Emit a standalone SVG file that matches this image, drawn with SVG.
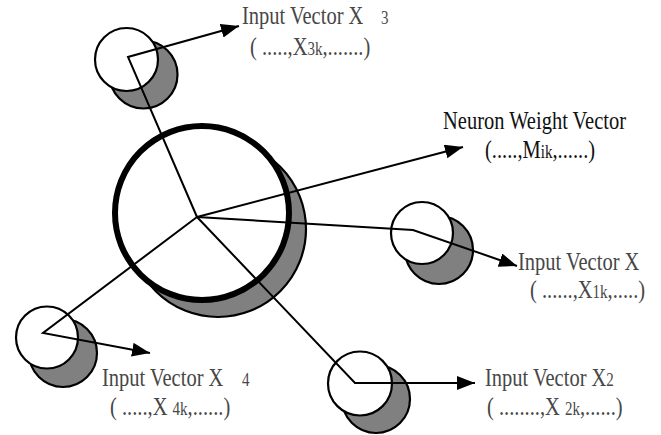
<svg xmlns="http://www.w3.org/2000/svg" width="661" height="435" viewBox="0 0 661 435">
<style>
.bg{fill:#ffffff}
.shade{fill:#808080;stroke:#000;stroke-width:2.2}
.face{fill:#ffffff;stroke:#000;stroke-width:2.2}
.bigface{fill:#ffffff;stroke:#000;stroke-width:6}
.conn{fill:none;stroke:#000;stroke-width:2;stroke-linejoin:miter}
.lbl{font-family:"Liberation Serif","Times New Roman",serif;font-size:20.5px;fill:#474747}
.lbl2{font-family:"Liberation Serif","Times New Roman",serif;font-size:20.5px;fill:#111}
.sm{font-size:15px}
</style>
<defs>
<marker id="ah" markerUnits="userSpaceOnUse" markerWidth="20" markerHeight="16" refX="18" refY="7" orient="auto">
<path d="M0,0 L18,7 L0,14 z" fill="#000"/>
</marker>
</defs>
<rect class="bg" x="0" y="0" width="661" height="435"/>
<g id="neuron">
<circle class="shade" cx="218" cy="229" r="88"/>
<circle class="bigface" cx="202" cy="213" r="87"/>
</g>
<g id="input-x3">
<circle class="shade" cx="143.5" cy="74.5" r="34"/>
<circle class="face" cx="126.5" cy="59.5" r="31.5"/>
</g>
<g id="input-x1">
<circle class="shade" cx="439" cy="250" r="34"/>
<circle class="face" cx="422" cy="233" r="31"/>
</g>
<g id="input-x4">
<circle class="shade" cx="63" cy="353" r="34"/>
<circle class="face" cx="47" cy="337.5" r="31"/>
</g>
<g id="input-x2">
<circle class="shade" cx="376" cy="399" r="34"/>
<circle class="face" cx="360" cy="383.5" r="32"/>
</g>
<g id="connectors">
<polyline class="conn" points="197,217 128,57 239,26" marker-end="url(#ah)"/>
<polyline class="conn" points="197,217 463,147" marker-end="url(#ah)"/>
<polyline class="conn" points="197,217 413,230 517,266" marker-end="url(#ah)"/>
<polyline class="conn" points="197,217 355,383 475,383" marker-end="url(#ah)"/>
<polyline class="conn" points="197,217 43,333 150,353" marker-end="url(#ah)"/>
</g>
<g id="label-x3">
<text class="lbl" transform="translate(242,24) scale(1,1.2)">Input Vector X</text>
<text class="lbl sm" transform="translate(381,24) scale(1,1.2)">3</text>
<text class="lbl" transform="translate(250,55) scale(1,1.2)">( .....,X<tspan class="sm">3k</tspan>,.......)</text>
</g>
<g id="label-neuron">
<text class="lbl2" transform="translate(443,129) scale(1,1.2)">Neuron Weight Vector</text>
<text class="lbl2" transform="translate(485,158) scale(1,1.2)">(.....,M<tspan class="sm">ik</tspan>,......)</text>
</g>
<g id="label-x1">
<text class="lbl" transform="translate(518,270) scale(1,1.2)">Input Vector X</text>
<text class="lbl" transform="translate(530,298) scale(1,1.2)">( ......,X<tspan class="sm">1k</tspan>,.....)</text>
</g>
<g id="label-x4">
<text class="lbl" transform="translate(102,386) scale(1,1.2)">Input Vector X</text>
<text class="lbl sm" transform="translate(242,386) scale(1,1.2)">4</text>
<text class="lbl" transform="translate(110,415) scale(1,1.2)">( .....,X <tspan class="sm">4k</tspan>,......)</text>
</g>
<g id="label-x2">
<text class="lbl" transform="translate(485,386) scale(1,1.2)">Input Vector X<tspan class="sm">2</tspan></text>
<text class="lbl" transform="translate(487,415) scale(1,1.2)">( ........,X <tspan class="sm">2k</tspan>,......)</text>
</g>
</svg>
